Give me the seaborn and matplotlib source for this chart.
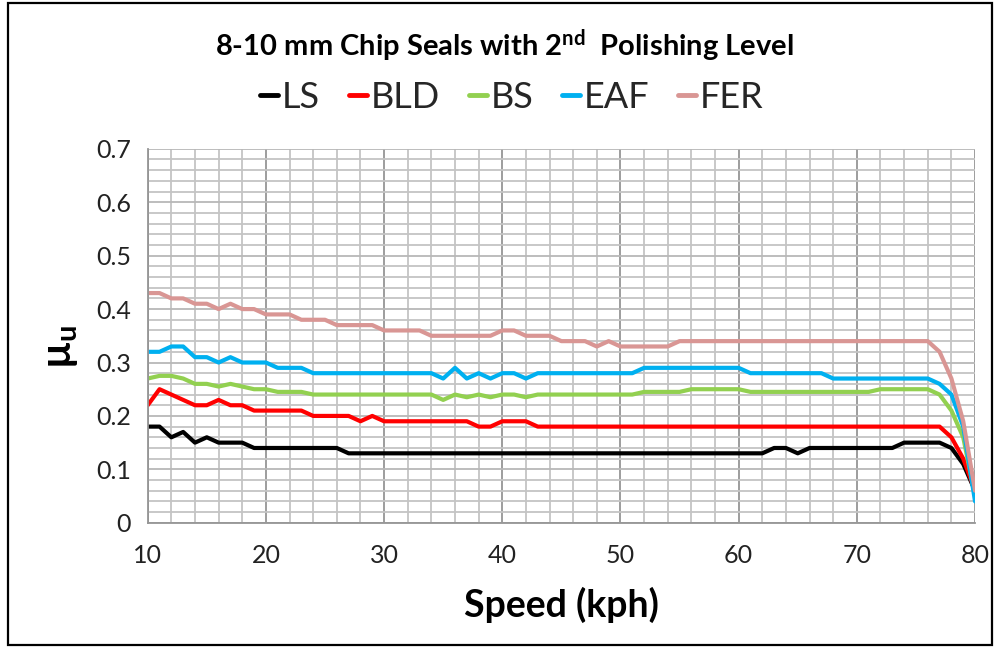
import numpy as np
import pandas as pd
import matplotlib
matplotlib.use("Agg")
import matplotlib.pyplot as plt
import seaborn as sns
from matplotlib.ticker import MultipleLocator
from matplotlib.patches import Rectangle

# ---------------- data ----------------
speed = list(range(10, 81))

LS = [0.18, 0.18, 0.16, 0.17, 0.15, 0.16, 0.15, 0.15, 0.15, 0.14,
      0.14, 0.14, 0.14, 0.14, 0.14, 0.14, 0.14, 0.13, 0.13, 0.13,
      0.13, 0.13, 0.13, 0.13, 0.13, 0.13, 0.13, 0.13, 0.13, 0.13,
      0.13, 0.13, 0.13, 0.13, 0.13, 0.13, 0.13, 0.13, 0.13, 0.13,
      0.13, 0.13, 0.13, 0.13, 0.13, 0.13, 0.13, 0.13, 0.13, 0.13,
      0.13, 0.13, 0.13, 0.14, 0.14, 0.13, 0.14, 0.14, 0.14, 0.14,
      0.14, 0.14, 0.14, 0.14, 0.15, 0.15, 0.15, 0.15, 0.14, 0.11,
      0.06]

BLD = [0.22, 0.25, 0.24, 0.23, 0.22, 0.22, 0.23, 0.22, 0.22, 0.21,
       0.21, 0.21, 0.21, 0.21, 0.20, 0.20, 0.20, 0.20, 0.19, 0.20,
       0.19, 0.19, 0.19, 0.19, 0.19, 0.19, 0.19, 0.19, 0.18, 0.18,
       0.19, 0.19, 0.19, 0.18, 0.18, 0.18, 0.18, 0.18, 0.18, 0.18,
       0.18, 0.18, 0.18, 0.18, 0.18, 0.18, 0.18, 0.18, 0.18, 0.18,
       0.18, 0.18, 0.18, 0.18, 0.18, 0.18, 0.18, 0.18, 0.18, 0.18,
       0.18, 0.18, 0.18, 0.18, 0.18, 0.18, 0.18, 0.18, 0.16, 0.12,
       0.06]

BS = [0.27, 0.275, 0.275, 0.27, 0.26, 0.26, 0.255, 0.26, 0.255, 0.25,
      0.25, 0.245, 0.245, 0.245, 0.24, 0.24, 0.24, 0.24, 0.24, 0.24,
      0.24, 0.24, 0.24, 0.24, 0.24, 0.23, 0.24, 0.235, 0.24, 0.235,
      0.24, 0.24, 0.235, 0.24, 0.24, 0.24, 0.24, 0.24, 0.24, 0.24,
      0.24, 0.24, 0.245, 0.245, 0.245, 0.245, 0.25, 0.25, 0.25, 0.25,
      0.25, 0.245, 0.245, 0.245, 0.245, 0.245, 0.245, 0.245, 0.245, 0.245,
      0.245, 0.245, 0.25, 0.25, 0.25, 0.25, 0.25, 0.24, 0.21, 0.16,
      0.05]

EAF = [0.32, 0.32, 0.33, 0.33, 0.31, 0.31, 0.30, 0.31, 0.30, 0.30,
       0.30, 0.29, 0.29, 0.29, 0.28, 0.28, 0.28, 0.28, 0.28, 0.28,
       0.28, 0.28, 0.28, 0.28, 0.28, 0.27, 0.29, 0.27, 0.28, 0.27,
       0.28, 0.28, 0.27, 0.28, 0.28, 0.28, 0.28, 0.28, 0.28, 0.28,
       0.28, 0.28, 0.29, 0.29, 0.29, 0.29, 0.29, 0.29, 0.29, 0.29,
       0.29, 0.28, 0.28, 0.28, 0.28, 0.28, 0.28, 0.28, 0.27, 0.27,
       0.27, 0.27, 0.27, 0.27, 0.27, 0.27, 0.27, 0.26, 0.24, 0.18,
       0.04]

FER = [0.43, 0.43, 0.42, 0.42, 0.41, 0.41, 0.40, 0.41, 0.40, 0.40,
       0.39, 0.39, 0.39, 0.38, 0.38, 0.38, 0.37, 0.37, 0.37, 0.37,
       0.36, 0.36, 0.36, 0.36, 0.35, 0.35, 0.35, 0.35, 0.35, 0.35,
       0.36, 0.36, 0.35, 0.35, 0.35, 0.34, 0.34, 0.34, 0.33, 0.34,
       0.33, 0.33, 0.33, 0.33, 0.33, 0.34, 0.34, 0.34, 0.34, 0.34,
       0.34, 0.34, 0.34, 0.34, 0.34, 0.34, 0.34, 0.34, 0.34, 0.34,
       0.34, 0.34, 0.34, 0.34, 0.34, 0.34, 0.34, 0.32, 0.27, 0.19,
       0.06]

series_names = ["LS", "BLD", "BS", "EAF", "FER"]
series_colors = ["#000000", "#FF0000", "#92D050", "#00B0F0", "#D99694"]
title_text = "8-10 mm Chip Seals with 2$^{\\mathregular{nd}}$  Polishing Level"
x_label = "Speed (kph)"
y_label = "$\u00b5_u$"

df = pd.DataFrame({"Speed": speed * 5,
                   "mu": LS + BLD + BS + EAF + FER,
                   "Material": sum([[n] * len(speed) for n in series_names], [])})

# ---------------- style ----------------
sns.set_theme(style="white")
plt.rcParams["font.family"] = ["Lato", "DejaVu Sans"]
plt.rcParams["mathtext.fontset"] = "custom"
plt.rcParams["mathtext.rm"] = "Lato:bold"
plt.rcParams["mathtext.it"] = "Lato:bold"
plt.rcParams["mathtext.bf"] = "Lato:bold"
plt.rcParams["mathtext.default"] = "rm"
plt.rcParams["lines.solid_joinstyle"] = "round"
plt.rcParams["lines.solid_capstyle"] = "round"

fig = plt.figure(figsize=(9.98, 6.47), dpi=100)
ax = fig.add_axes([0.148, 0.192, 0.829, 0.578])

sns.lineplot(data=df, x="Speed", y="mu", hue="Material", hue_order=series_names,
             palette=dict(zip(series_names, series_colors)), linewidth=3.0,
             ax=ax, legend=True)

ax.set_xlim(10, 80)
ax.set_ylim(0, 0.7)
ax.xaxis.set_major_locator(MultipleLocator(10))
ax.xaxis.set_minor_locator(MultipleLocator(2))
ax.yaxis.set_major_locator(MultipleLocator(0.1))
ax.yaxis.set_minor_locator(MultipleLocator(0.02))
ax.yaxis.set_major_formatter(plt.FuncFormatter(lambda v, p: "0" if abs(v) < 1e-9 else f"{v:.1f}"))

ax.grid(which="minor", axis="both", color="#c4c4c4", linewidth=1.3)
ax.grid(which="major", axis="y", color="#b8b8b8", linewidth=1.3)
ax.grid(which="major", axis="x", color="#959595", linewidth=1.3)
ax.set_axisbelow(True)

for s in ["top", "right"]:
    ax.spines[s].set_visible(False)
for s in ["left", "bottom"]:
    ax.spines[s].set_color("#959595")
    ax.spines[s].set_linewidth(1.3)

ax.tick_params(axis="both", which="major", direction="out", length=6, width=1.3,
               color="#959595", labelsize=18, labelcolor="#222222")
ax.tick_params(axis="x", which="major", pad=9)
ax.tick_params(axis="y", which="major", pad=6)
ax.tick_params(which="minor", length=0)

ax.set_xlabel(x_label, fontsize=27, fontweight="bold", color="black")
ax.xaxis.set_label_coords(0.5, -0.170)
ax.set_ylabel(y_label, fontsize=30, color="black")
ax.yaxis.set_label_coords(-0.082, 0.47)

leg = ax.legend(loc="center", bbox_to_anchor=(0.513, 0.85), bbox_transform=fig.transFigure,
                ncol=5, frameon=False, fontsize=26, handlelength=0.5,
                handletextpad=0.1, columnspacing=0.8, borderaxespad=0)
for h in leg.get_lines():
    h.set_linewidth(3.5)

fig.text(0.505, 0.930, title_text, ha="center", va="center", fontsize=21,
         fontweight="bold", color="black")

# figure frame
fig.patches.append(Rectangle((0.008, 0.003), 0.986, 0.992, transform=fig.transFigure,
                             fill=False, edgecolor="black", linewidth=1.6))

fig.savefig("out.png", dpi=100)
